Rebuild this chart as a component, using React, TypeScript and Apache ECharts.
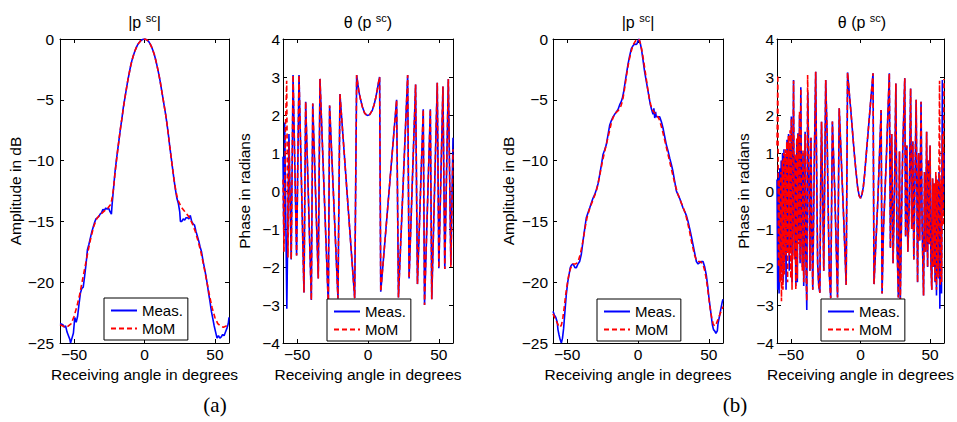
import React, { useEffect, useRef } from 'react';
import * as echarts from 'echarts';

type P = [number, number];

// ---------- data ----------
const xTicks = [-50, 0, 50];
const seriesNames = ['Meas.', 'MoM'];
const panelTitles = ['{n||p }{s|sc}{n||}', '{n|θ (p }{s|sc}{n|)}', '{n||p }{s|sc}{n||}', '{n|θ (p }{s|sc}{n|)}'];
const yNames = ['Amplitude in dB', 'Phase in radians', 'Amplitude in dB', 'Phase in radians'];
const xName = 'Receiving angle in degrees';
const subLabels = ['(a)', '(b)'];

const ampAMeas: P[] = [
  [-60, -23.4], [-58, -23.5], [-57, -23.7], [-56, -23.6], [-55, -24.1], [-54, -24.4], [-53, -24.7], [-52.5, -25.0],
  [-51.5, -24.6], [-50.5, -24.2], [-49.5, -22.9], [-48.5, -23.3], [-47.5, -22.8], [-46.5, -21.8], [-45.5, -20.9],
  [-44.5, -20.5], [-43.5, -20.4], [-42.5, -19.5], [-41.5, -18.5], [-40.5, -17.3], [-39.5, -16.9], [-38.5, -16.4],
  [-37.5, -15.9], [-36.5, -15.5], [-35.5, -15.1], [-34.5, -14.8], [-33.5, -14.7], [-32.5, -14.6], [-31.5, -14.4],
  [-30.5, -14.3], [-29.5, -14.0], [-28.5, -14.1], [-27.5, -13.9], [-26.5, -14.0], [-25.5, -13.9], [-24.5, -14.2],
  [-23.5, -14.4], [-23, -13.6], [-22, -12.3], [-21, -11.0], [-20, -10.0], [-19, -9.1], [-18, -8.2], [-17, -7.3],
  [-16, -6.5], [-15, -5.6], [-14, -4.9], [-13, -4.2], [-12, -3.5], [-11, -2.9], [-10, -2.3], [-9, -1.8], [-8, -1.4],
  [-7, -1.05], [-6, -0.75], [-5, -0.5], [-4, -0.32], [-3, -0.18], [-2, -0.08], [-1, -0.02], [0, 0], [1, -0.03],
  [2, -0.1], [3, -0.22], [4, -0.4], [5, -0.65], [6, -0.95], [7, -1.3], [8, -1.75], [9, -2.25], [10, -2.8], [11, -3.4],
  [12, -4.1], [13, -4.8], [14, -5.5], [15, -6.2], [16, -7.0], [17, -7.9], [18, -8.9], [19, -9.8], [20, -10.7],
  [21, -11.6], [22, -12.4], [23, -13.1], [24, -13.5], [25, -14.2], [25.5, -15.0], [26.5, -15.0], [27.5, -14.8],
  [28.5, -14.9], [29.5, -14.7], [30.5, -14.7], [31.5, -14.8], [32.5, -14.5], [33.5, -15.0], [34.5, -15.2],
  [35.5, -15.3], [36.5, -15.8], [37.5, -16.2], [38.5, -16.6], [39.5, -17.1], [40.5, -17.5], [41.5, -18.2],
  [42.5, -18.8], [43.5, -19.4], [44.5, -20.1], [45.5, -20.9], [46.5, -21.6], [47.5, -22.4], [48.5, -23.0],
  [49.5, -23.6], [50.5, -24.1], [51.5, -24.6], [52.5, -24.4], [53.5, -24.6], [54.5, -24.5], [55.5, -24.3],
  [56.5, -24.4], [57.5, -24.1], [58.5, -23.8], [59.5, -23.4], [60, -22.9],
];

const ampAMoM: P[] = [
  [-60, -23.5], [-58, -23.6], [-56, -23.7], [-54, -23.6], [-52, -23.4], [-50, -22.8], [-48, -22.0], [-46, -21.0],
  [-44, -19.8], [-42, -18.6], [-40, -17.4], [-38, -16.3], [-36, -15.4], [-34, -14.8], [-32, -14.5], [-30, -14.3],
  [-28, -14.1], [-26, -13.9], [-24, -13.6], [-23, -13.1], [-22, -12.3], [-21, -11.1], [-20, -10.1], [-19, -9.1],
  [-18, -8.2], [-17, -7.3], [-16, -6.5], [-15, -5.7], [-14, -4.9], [-13, -4.2], [-12, -3.5], [-11, -2.9], [-10, -2.3],
  [-9, -1.8], [-8, -1.4], [-7, -1.05], [-6, -0.75], [-5, -0.5], [-4, -0.32], [-3, -0.18], [-2, -0.08], [-1, -0.02],
  [0, 0], [1, -0.03], [2, -0.1], [3, -0.22], [4, -0.4], [5, -0.65], [6, -0.95], [7, -1.3], [8, -1.75], [9, -2.25],
  [10, -2.8], [11, -3.4], [12, -4.1], [13, -4.8], [14, -5.5], [15, -6.2], [16, -7.0], [17, -7.9], [18, -8.9],
  [19, -9.8], [20, -10.7], [21, -11.6], [22, -12.3], [23, -12.9], [24, -13.3], [26, -13.8], [28, -14.1], [30, -14.4],
  [32, -14.7], [34, -15.2], [36, -15.8], [38, -16.6], [40, -17.5], [42, -18.6], [44, -19.8], [46, -21.0], [48, -22.1],
  [50, -22.9], [52, -23.4], [54, -23.6], [56, -23.7], [58, -23.6], [60, -23.5],
];

const ampBMeas: P[] = [
  [-60, -22.4], [-59, -22.7], [-58, -22.9], [-57, -23.3], [-56.5, -23.9], [-55.8, -24.3], [-55, -24.7], [-54.1, -25.0],
  [-53.3, -24.6], [-52.5, -23.8], [-51.5, -22.3], [-50.6, -21.0], [-49.6, -20.0], [-48.7, -19.4], [-47.8, -18.8],
  [-47, -18.6], [-46.2, -18.5], [-45.4, -18.6], [-44.5, -18.8], [-43.5, -18.8], [-42.4, -18.5], [-41.2, -18.3],
  [-40, -17.7], [-38.8, -16.6], [-37.6, -15.6], [-36.5, -14.7], [-35.3, -14.3], [-34.1, -13.9], [-33, -13.5],
  [-31.8, -13.1], [-30.6, -12.8], [-29.4, -12.4], [-28.2, -11.9], [-27.1, -11.2], [-25.9, -10.4], [-24.7, -9.5],
  [-23.5, -9.1], [-22.4, -8.7], [-21.2, -7.9], [-20, -7.1], [-18.8, -6.7], [-17.6, -6.4], [-16.5, -6.2],
  [-15.3, -6.0], [-14.1, -5.8], [-12.9, -5.4], [-12, -5.2], [-11.1, -4.9], [-10.2, -4.4], [-9.4, -3.8],
  [-8.2, -2.9], [-7.1, -2.1], [-5.9, -1.4], [-4.7, -0.8], [-3.5, -0.55], [-2.4, -0.4], [-1.5, -0.45], [-0.7, -0.4],
  [0, -0.15], [0.7, 0], [1.5, -0.3], [2.4, -0.8], [3.5, -1.7], [4.7, -2.7], [5.9, -3.5], [7.1, -4.3], [8.7, -5.4],
  [9.6, -5.8], [10.6, -6.2], [11.2, -5.7], [11.8, -6.5], [12.4, -6.0], [12.9, -6.4], [14.1, -6.4], [15.3, -6.4],
  [16.5, -6.8], [17.6, -7.3], [18.8, -8.0], [20, -8.7], [21.2, -9.2], [22.4, -9.8], [23.5, -10.3], [24.7, -10.9],
  [25.9, -11.7], [27.1, -12.5], [28.2, -12.8], [29.4, -13.1], [30.6, -13.5], [31.8, -13.9], [33, -14.2],
  [34.1, -14.5], [35.3, -15.0], [36.5, -15.6], [37.6, -16.2], [38.8, -16.9], [40, -17.6], [41.2, -18.3],
  [42.4, -18.5], [43.5, -18.4], [44.7, -18.3], [45.9, -18.3], [47, -18.7], [48.2, -19.4], [49.2, -20.3],
  [50.1, -21.3], [51.3, -22.4], [52.5, -23.5], [53.3, -23.9], [54.1, -24.0], [55, -24.2], [56, -24.0],
  [56.5, -23.4], [57.5, -22.8], [58.5, -22.2], [59.5, -21.6], [60, -21.4],
];

const ampBMoM: P[] = [
  [-60, -22.6], [-58, -23.1], [-56, -23.6], [-55, -23.7], [-54, -23.5], [-53, -22.9], [-52, -22.0], [-51, -21.0],
  [-50, -20.2], [-49, -19.5], [-48, -19.0], [-47, -18.7], [-46, -18.5], [-45, -18.5], [-44, -18.5], [-43, -18.4],
  [-42, -18.2], [-41, -17.8], [-40, -17.3], [-39, -16.7], [-38, -16.0], [-37, -15.3], [-36, -14.7], [-35, -14.3],
  [-34, -13.9], [-33, -13.6], [-32, -13.3], [-31, -13.0], [-30, -12.7], [-29, -12.3], [-28, -11.8], [-27, -11.2],
  [-26, -10.6], [-25, -10.0], [-24, -9.5], [-23, -9.0], [-22, -8.5], [-21, -8.0], [-20, -7.5], [-19, -7.0],
  [-18, -6.6], [-17, -6.3], [-16, -6.1], [-15, -6.0], [-14, -5.9], [-13, -5.7], [-12, -5.5], [-11, -5.1],
  [-10, -4.5], [-9, -3.7], [-8, -2.9], [-7, -2.2], [-6, -1.6], [-5, -1.1], [-4, -0.7], [-3, -0.4], [-2, -0.2],
  [-1, -0.05], [0, 0], [1, -0.1], [2, -0.5], [3, -1.1], [4, -1.8], [5, -2.6], [6, -3.4], [7, -4.2], [8, -4.9],
  [9, -5.4], [10, -5.8], [11, -6.0], [12, -6.1], [13, -6.2], [14, -6.4], [15, -6.6], [16, -7.0], [17, -7.4],
  [18, -7.9], [19, -8.4], [20, -8.9], [21, -9.4], [22, -9.9], [23, -10.4], [24, -10.9], [25, -11.4], [26, -11.9],
  [27, -12.3], [28, -12.7], [29, -13.0], [30, -13.3], [31, -13.6], [32, -13.9], [33, -14.2], [34, -14.6],
  [35, -15.1], [36, -15.6], [37, -16.2], [38, -16.8], [39, -17.3], [40, -17.8], [41, -18.1], [42, -18.3],
  [43, -18.3], [44, -18.3], [45, -18.4], [46, -18.6], [47, -19.0], [48, -19.6], [49, -20.4], [50, -21.3],
  [51, -22.2], [52, -22.9], [53, -23.4], [54, -23.6], [55, -23.5], [56, -23.2], [57, -22.9], [58, -22.6],
  [59, -22.3], [60, -22.0],
];

// phase (a)
const phaseACore: P[] = [
  [-52.9, 3.05], [-50.4, -1.7], [-48.7, 3.05], [-45.2, -2.67], [-44, 2.35], [-40, -2.87], [-39, 2.3],
  [-35.1, -2.3], [-33.9, 2.95], [-28, -3.0], [-27.1, 2.25], [-21.2, -2.83], [-19.8, 2.55], [-9.4, -2.82],
  [-8, 3.05], [-7.2, 2.82], [-6.4, 2.61], [-5.2, 2.4], [-4, 2.22], [-2.4, 2.05], [-1, 2.0], [0, 1.99],
  [1.2, 2.01], [3.1, 2.13], [4.3, 2.27], [5.4, 2.44], [6.6, 2.68], [7.4, 2.85], [8.2, 3.0], [9, -2.65],
  [20.2, 2.4], [21.5, -2.8], [28, 3.05], [29, -2.3], [33.6, 2.8], [34.9, -2.45], [39, 2.15], [39.9, -3.0],
  [44, 2.15], [45, -2.85], [48.9, 2.85], [50, -2.03], [52.9, 2.75], [54.2, -2.05], [56.7, 2.95],
];
const phaseAMeasLeft: P[] = [[-60, 0.9], [-59.4, -1.2], [-58.8, 1.8], [-57.3, -3.1], [-55.8, 1.5], [-54.2, -1.8]];
const phaseAMeasRight: P[] = [[58.5, -1.95], [60, 1.4]];
const phaseAMoMLeft: P[] = [[-60, 0.3], [-59.3, -1.6], [-58.3, 1.6], [-57.4, 2.9], [-56.5, -1.75], [-55.7, 1.3], [-54.2, -1.8]];
const phaseAMoMRight: P[] = [[58.5, -2.0], [60, 1.1]];

// phase (b)
const phaseBCore: P[] = [
  [-37, 0.3], [-36.3, -2.1], [-35.6, 1.4], [-34.9, -1.2], [-34.3, -2.6], [-33.2, 0.8], [-32.2, 3.14], [-31.5, 0.5],
  [-30.8, -1.9], [-30, -2.5], [-29.2, -2.68], [-28.6, 0.2], [-28, 1.82], [-27, -0.6], [-26.4, -2.1], [-25, 2.92],
  [-24, 1.5], [-23.2, -0.5], [-22.4, -2.2], [-21.4, -2.82], [-20.2, 1.83], [-18.5, 0.0], [-16.5, -2.8],
  [-15.3, 2.18], [-12, -0.8], [-10.3, -2.47], [-9.3, 3.12], [-8, 2.55], [-6.8, 2.05], [-5.5, 1.45], [-4.5, 1.0],
  [-3.2, 0.5], [-2.1, 0.11], [-1, -0.12], [0, -0.19], [1, -0.1], [2, 0.1], [3, 0.45], [3.8, 0.82], [5, 1.35],
  [6.2, 1.87], [7.5, 2.45], [9, 3.1], [9.7, -2.45], [12.5, -0.2], [14.8, 2.13], [15.5, -2.7], [16.5, -1.0],
  [18.5, 0.8], [20.7, 3.1], [21.5, -1.5], [22.4, 1.5], [23.4, -1.9], [24.5, 0.2], [25.4, 2.83], [26.2, -1.3],
  [27.2, -2.8], [28, 1.04], [28.6, -2.88], [29.5, -0.6], [30.3, 1.0], [31.8, 2.97], [32.4, -1.2], [33.3, 1.2],
  [34, -1.6], [35, -0.4], [36, 2.7], [36.8, -1.0], [37.6, 1.3], [38.3, -1.8], [39, 0.0], [40, 2.4], [41, -2.4],
  [41.8, 1.0], [42.5, -1.3], [43.5, 2.35], [44.3, -1.0], [45.3, -2.75], [46, 0.5], [46.8, -1.6], [47.5, 1.56],
  [48.2, -2.0], [48.8, 0.8], [49.4, -1.4], [50, 1.2], [50.6, -1.9], [51.2, -2.6], [51.8, 0.33], [52.4, -2.0],
  [53, 0.2], [53.6, -2.4],
];
const phaseBMeasLeft: P[] = [
  [-60, 0.3], [-59.5, -2.6], [-59, 0.5], [-58.5, -2.7], [-58, 0.6], [-57.5, -2.3], [-57, 0.8], [-56.5, -2.0],
  [-56, 1.0], [-55.5, -2.4], [-55, 1.1], [-54.5, -1.8], [-54, 0.9], [-53.5, -2.6], [-52.8, 1.35], [-52.3, -1.6],
  [-51.7, 1.5], [-51.2, -2.1], [-50.6, 1.2], [-50.1, -1.5], [-49.7, 1.96], [-49.2, -2.4], [-48.1, 2.92],
  [-47.6, -1.7], [-47, 0.9], [-46.5, -2.5], [-45.8, 1.3], [-45.4, -2.4], [-45, 1.52], [-44.4, -1.3], [-43.8, 2.0],
  [-43.4, -1.9], [-42.9, 2.73], [-42.3, -0.8], [-41.8, -2.0], [-41.3, 1.0], [-40.8, -2.5], [-39.8, 1.56],
  [-39.3, -1.6], [-38.6, -3.13], [-37.9, 2.6],
];
const phaseBMeasRight: P[] = [
  [54.1, 0.4], [54.6, -2.75], [55.2, 0.2], [55.8, -2.2], [56.4, 0.5], [57, -3.1], [57.6, 0.1], [58.2, -2.7],
  [58.8, 2.92], [59.4, -0.5], [60, 1.0],
];
const phaseBMoMLeft: P[] = [
  [-60, 1.2], [-59.4, 3.05], [-58.9, -2.0], [-58.4, 0.3], [-57.8, -2.4], [-57.3, 0.5], [-56.8, -2.9], [-56.2, 0.8],
  [-55.7, -2.6], [-55.2, 1.0], [-54.7, -2.2], [-54.1, 1.1], [-53.6, -1.7], [-53, 1.3], [-52.4, -2.4], [-51.8, 1.45],
  [-51.2, -1.7], [-50.6, 1.6], [-50.1, -2.3], [-49.7, 1.9], [-49.2, -2.6], [-48.1, 2.9], [-47.6, -1.8], [-47, 1.0],
  [-46.5, -2.6], [-45.8, 1.4], [-45.4, -2.3], [-45, 1.5], [-44.4, -1.4], [-43.8, 2.1], [-43.4, -1.8], [-42.9, 2.7],
  [-42.3, -0.9], [-41.8, -2.1], [-41.3, 1.1], [-40.8, -2.4], [-39.8, 1.5], [-39.3, -1.7], [-38.6, -2.9],
  [-38, 3.05],
];
const phaseBMoMRight: P[] = [
  [54.1, 0.5], [54.6, -2.6], [55.2, 0.3], [55.8, -2.3], [56.8, 2.9], [57.3, -2.5], [57.8, 0.3], [58.3, -2.4],
  [58.9, 1.5], [59.4, -0.9], [60, 2.95],
];

const phaseAMeas: P[] = [...phaseAMeasLeft, ...phaseACore, ...phaseAMeasRight];
const phaseAMoM: P[] = [...phaseAMoMLeft, ...phaseACore, ...phaseAMoMRight];
const phaseBMeas: P[] = [...phaseBMeasLeft, ...phaseBCore, ...phaseBMeasRight];
const phaseBMoM: P[] = [...phaseBMoMLeft, ...phaseBCore, ...phaseBMoMRight];

// ---------- layout ----------
const FONT = '"Liberation Sans", Arial, Helvetica, sans-serif';
const BLACK = '#000000';

const panels = [
  { left: 60, top: 39, width: 169, height: 304, yMin: -25, yMax: 0, yInt: 5, lblMargin: 6, nameGap: 33, lgLeft: 104, lgTop: 298, meas: ampAMeas, mom: ampAMoM },
  { left: 283, top: 39, width: 170, height: 304, yMin: -4, yMax: 4, yInt: 1, lblMargin: 3, nameGap: 31, lgLeft: 327, lgTop: 299, meas: phaseAMeas, mom: phaseAMoM },
  { left: 553, top: 39, width: 170, height: 304, yMin: -25, yMax: 0, yInt: 5, lblMargin: 5, nameGap: 37, lgLeft: 597, lgTop: 299, meas: ampBMeas, mom: ampBMoM },
  { left: 777, top: 39, width: 170, height: 304, yMin: -4, yMax: 4, yInt: 1, lblMargin: 3, nameGap: 26, lgLeft: 821, lgTop: 299, meas: phaseBMeas, mom: phaseBMoM },
];

const fmt = (v: number) => (v < 0 ? '\u2212' + Math.abs(v) : String(v));

function buildOption() {
  const line = { color: BLACK, width: 1 };
  const grid: any[] = [];
  const xAxis: any[] = [];
  const yAxis: any[] = [];
  const series: any[] = [];
  const legend: any[] = [];
  const graphic: any[] = [];

  panels.forEach((p, i) => {
    grid.push({ left: p.left, top: p.top, width: p.width, height: p.height, containLabel: false });
    xAxis.push({
      gridIndex: i, type: 'value', min: -60, max: 60, position: 'bottom',
      axisLine: { show: true, onZero: false, lineStyle: line },
      axisTick: { show: true, inside: true, length: 4, customValues: xTicks, lineStyle: line },
      axisLabel: { show: true, customValues: xTicks, formatter: fmt, margin: 3, color: BLACK, fontSize: 15.5, fontFamily: FONT },
      splitLine: { show: false },
      name: xName, nameLocation: 'middle', nameGap: 20,
      nameTextStyle: { color: BLACK, fontSize: 15.5, fontFamily: FONT },
    });
    xAxis.push({
      gridIndex: i, type: 'value', min: -60, max: 60, position: 'top',
      axisLine: { show: true, onZero: false, lineStyle: line },
      axisTick: { show: true, inside: true, length: 4, customValues: xTicks, lineStyle: line },
      axisLabel: { show: false }, splitLine: { show: false },
    });
    yAxis.push({
      gridIndex: i, type: 'value', min: p.yMin, max: p.yMax, interval: p.yInt, position: 'left',
      axisLine: { show: true, onZero: false, lineStyle: line },
      axisTick: { show: true, inside: true, length: 4, lineStyle: line },
      axisLabel: { show: true, formatter: fmt, margin: p.lblMargin, color: BLACK, fontSize: 15.5, fontFamily: FONT },
      splitLine: { show: false },
      name: yNames[i], nameLocation: 'middle', nameGap: p.nameGap, nameRotate: 90,
      nameTextStyle: { color: BLACK, fontSize: 15.5, fontFamily: FONT },
    });
    yAxis.push({
      gridIndex: i, type: 'value', min: p.yMin, max: p.yMax, interval: p.yInt, position: 'right',
      axisLine: { show: true, onZero: false, lineStyle: line },
      axisTick: { show: true, inside: true, length: 4, lineStyle: line },
      axisLabel: { show: false }, splitLine: { show: false },
    });
    series.push({
      type: 'line', name: seriesNames[0], xAxisIndex: 2 * i, yAxisIndex: 2 * i, data: p.meas,
      symbol: 'none', showSymbol: false, lineStyle: { color: '#0000ff', width: 1.6 }, itemStyle: { color: '#0000ff' }, z: 2,
    });
    series.push({
      type: 'line', name: seriesNames[1], xAxisIndex: 2 * i, yAxisIndex: 2 * i, data: p.mom,
      symbol: 'none', showSymbol: false, lineStyle: { color: '#ff0000', width: 1.6, type: [5, 3] }, itemStyle: { color: '#ff0000' }, z: 3,
    });
    legend.push({
      show: true, orient: 'vertical', left: p.lgLeft, top: p.lgTop, data: seriesNames,
      itemWidth: 26, itemHeight: 14, itemGap: 3, itemTextGap: 3, padding: [5, 5, 4, 6],
      borderColor: BLACK, borderWidth: 1, backgroundColor: '#ffffff', borderRadius: 0,
      selectedMode: false, z: 10,
      itemStyle: { opacity: 0, borderWidth: 0 },
      textStyle: { fontSize: 15, fontFamily: FONT, color: BLACK },
    });
    graphic.push({
      type: 'text', x: p.left + p.width / 2, y: 22.5, z: 10,
      style: {
        text: panelTitles[i], align: 'center', verticalAlign: 'middle', fill: BLACK,
        font: '16px ' + FONT,
        rich: {
          n: { fontSize: 16, fontFamily: FONT, fill: BLACK, lineHeight: 20, verticalAlign: 'middle' },
          s: { fontSize: 11, fontFamily: FONT, fill: BLACK, lineHeight: 11, verticalAlign: 'top' },
        },
      },
    });
  });

  graphic.push({ type: 'text', x: 215, y: 405, style: { text: subLabels[0], align: 'center', verticalAlign: 'middle', fill: BLACK, font: '21px "Liberation Serif", "Times New Roman", serif' } });
  graphic.push({ type: 'text', x: 735, y: 405, style: { text: subLabels[1], align: 'center', verticalAlign: 'middle', fill: BLACK, font: '21px "Liberation Serif", "Times New Roman", serif' } });

  return {
    animation: false,
    backgroundColor: '#ffffff',
    grid, xAxis, yAxis, series, legend, graphic,
  };
}

export default function App() {
  const ref = useRef<HTMLDivElement>(null);
  useEffect(() => {
    if (!ref.current) return;
    const chart = echarts.init(ref.current, null, { renderer: 'svg' });
    chart.setOption(buildOption() as any);
    return () => chart.dispose();
  }, []);
  return (
    <div
      ref={ref}
      style={{ position: 'absolute', left: 0, top: 0, width: 957, height: 422, background: '#ffffff' }}
    />
  );
}
